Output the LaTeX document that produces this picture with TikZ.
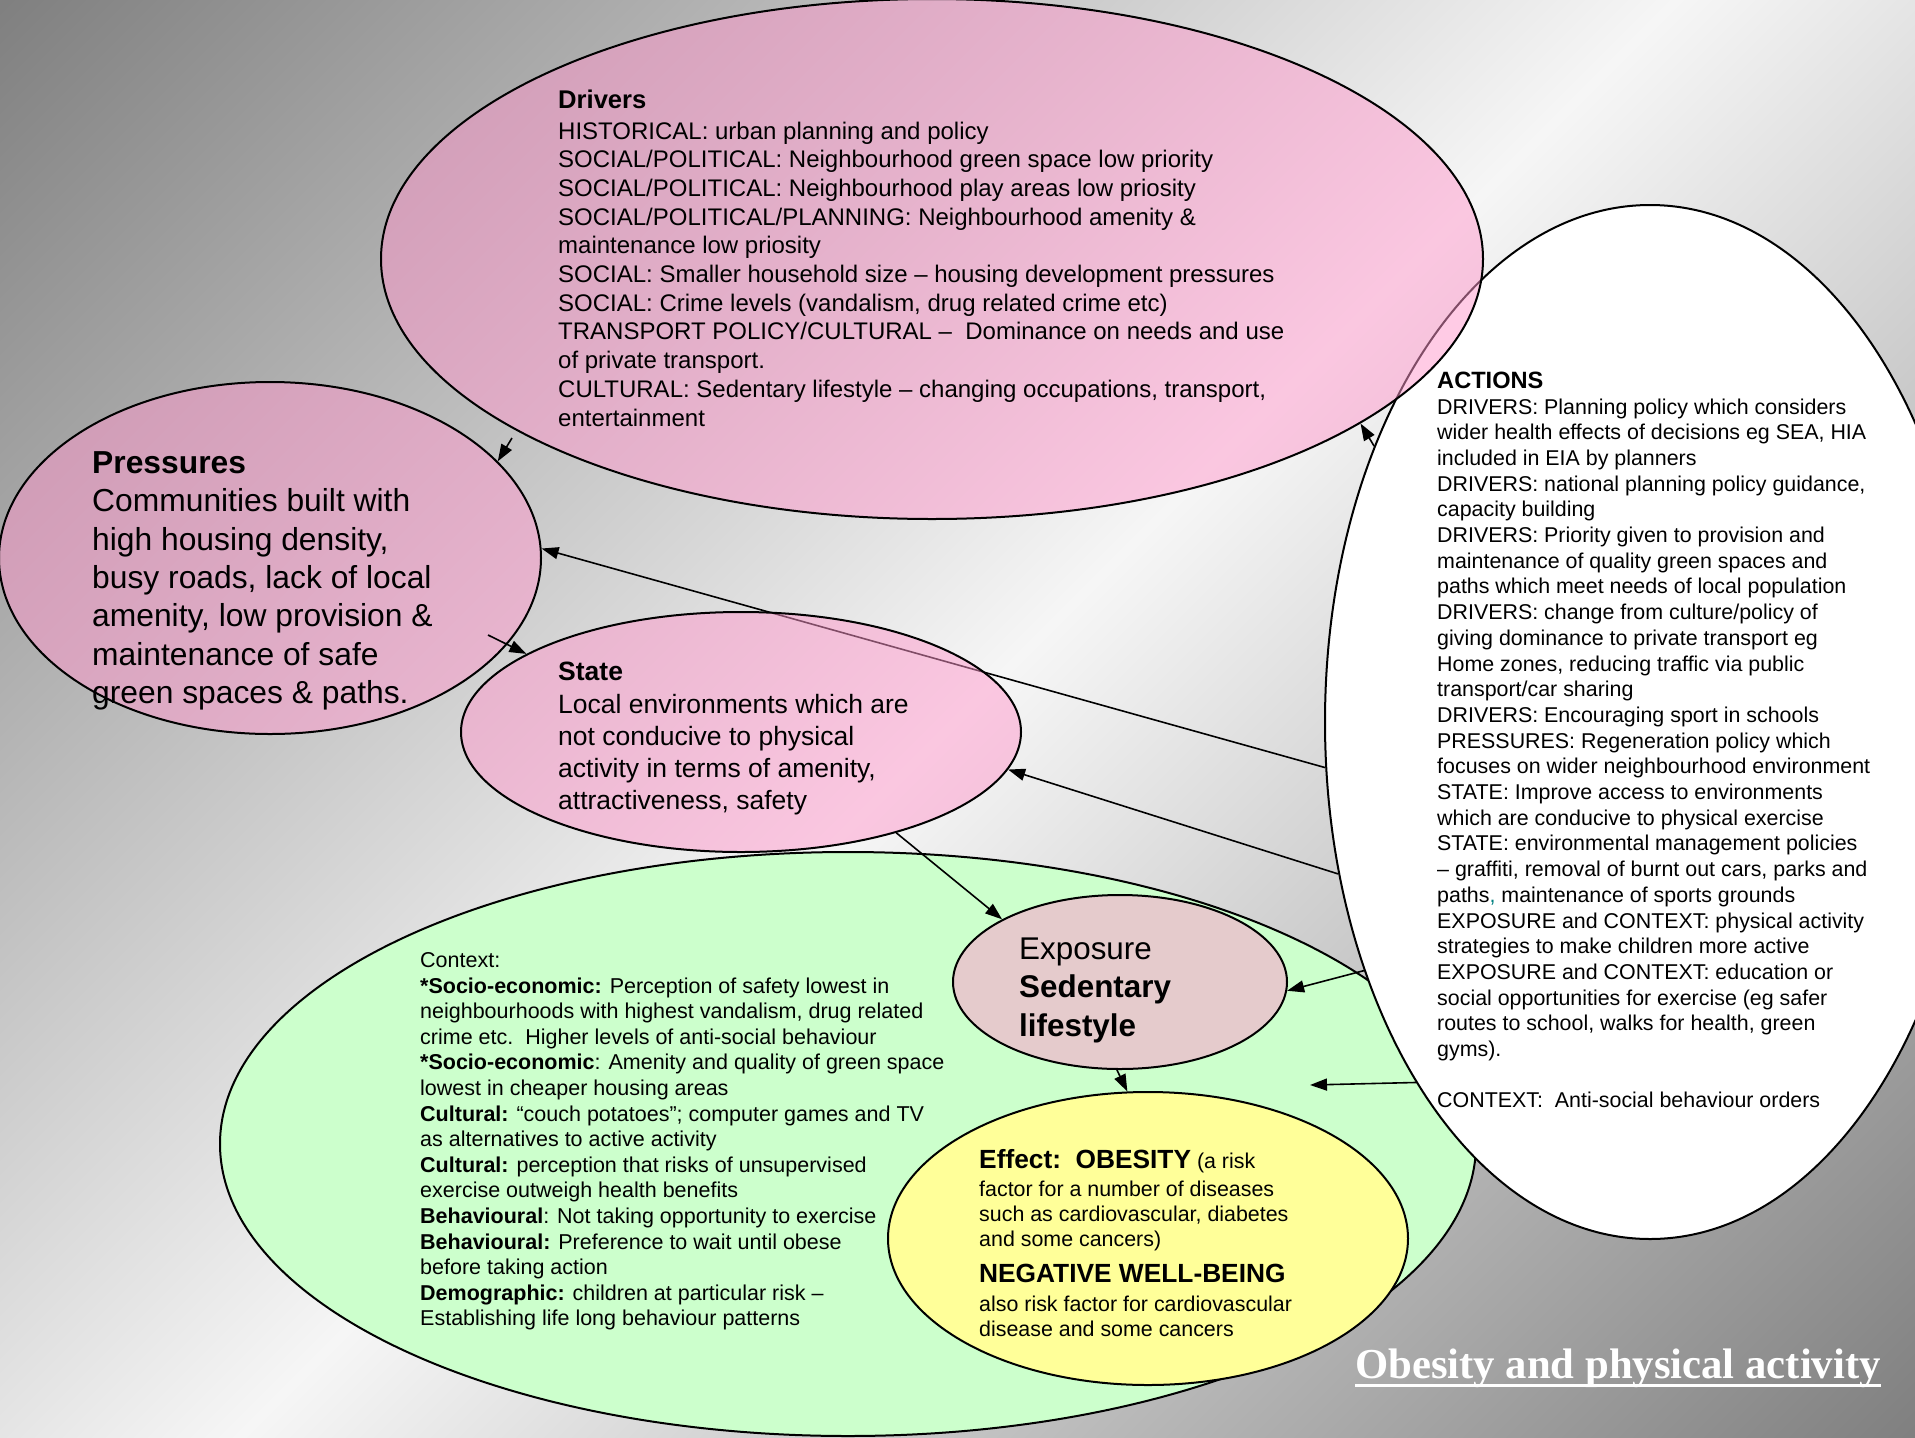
\documentclass[tikz,border=0pt]{standalone}
\usepackage{fontspec}
\setmainfont{Liberation Sans}
\newfontfamily\titlefont{Liberation Serif}
\usetikzlibrary{shapes.geometric, arrows.meta}

\definecolor{bgdark}{RGB}{128,128,128}
\definecolor{bglight}{RGB}{246,246,246}
\definecolor{rose}{RGB}{255,153,204}
\definecolor{mint}{RGB}{204,255,204}
\definecolor{lemon}{RGB}{255,255,153}
\pgfdeclarehorizontalshading{slide}{100bp}{color(0bp)=(bgdark); color(14.6bp)=(bgdark); color(50bp)=(bglight); color(85.4bp)=(bgdark); color(100bp)=(bgdark)}

\begin{document}
\begin{tikzpicture}[x=1pt, y=-1pt,
	blob/.style={ellipse, draw, line width=2pt, inner sep=0pt},
	arr/.style={-{Triangle[length=17pt, width=12pt]}, line width=1.6pt},
	txt/.style={anchor=base west, align=left, inner sep=0pt}]
	\useasboundingbox (0,0) rectangle (1915,1438);
	\shade[shading=slide, shading angle=-45] (0,0) rectangle (1915,1438);
	
	\node[blob, fill=mint, minimum width=1256, minimum height=584] (ctx) at (848,1144) {};
	\node[blob, fill=white, minimum width=650, minimum height=1034] (act) at (1650,722) {};
	\node[blob, fill=rose, fill opacity=0.5, minimum width=1102, minimum height=520] (drv) at (932,259) {};
	\node[blob, fill=rose, fill opacity=0.5, minimum width=542, minimum height=352] (prs) at (270,558) {};
	\draw[arr] (act.188) -- (prs.2);
	\node[blob, fill=rose, fill opacity=0.5, minimum width=560, minimum height=240] (sta) at (741,732) {};
	\node[blob, fill=rose, fill opacity=0.5, minimum width=334, minimum height=174] (exp) at (1120,982) {};
	\node[blob, fill=lemon, minimum width=520, minimum height=293] (eff) at (1148,1238.5) {};
	
	\coordinate (d2p) at (512,438);
	\coordinate (p2s) at (488,635);
	\coordinate (a2c) at (1310,1085);
	
	\draw[arr] (d2p) -- (prs.23);
	\draw[arr] (act.135) -- (drv.-21);
	\draw[arr] (p2s) -- (sta.160);
	\draw[arr] (act.206) -- (sta.-8);
	\draw[arr] (sta.-33) -- (exp.152);
	\draw[arr] (act.221) -- (exp.-3);
	\draw[arr] (exp.-92) -- (eff.98);
	\draw[arr] (act.237) -- (a2c);
	
	% text blocks sit on the baseline of their last line
	\node[txt, font=\fontsize{24}{28.7}\selectfont] (drvtxt) at (558,426) {\textbf{\fontsize{25.6}{28.7}\selectfont Drivers}\\[2pt]
		HISTORICAL: urban planning and policy\\
		SOCIAL/POLITICAL: Neighbourhood green space low priority\\
		SOCIAL/POLITICAL: Neighbourhood play areas low priosity\\
		SOCIAL/POLITICAL/PLANNING: Neighbourhood amenity \&\\
		maintenance low priosity\\
		SOCIAL: Smaller household size -- housing development pressures\\
		SOCIAL: Crime levels (vandalism, drug related crime etc)\\
		TRANSPORT POLICY/CULTURAL --\ \ Dominance on needs and use\\
		of private transport.\\
		CULTURAL: Sedentary lifestyle -- changing occupations, transport,\\
		entertainment};
	
	\node[txt, font=\fontsize{31.8}{38.4}\selectfont] (prstxt) at (92,703.7) {\textbf{Pressures}\\
		Communities built with\\
		high housing density,\\
		busy roads, lack of local\\
		amenity, low provision \&\\
		maintenance of safe\\
		green spaces \& paths.};
	
	\node[txt, font=\fontsize{26.5}{32}\selectfont] (statxt) at (558,809.3) {\textbf{State}\\[1.3pt]
		Local environments which are\\
		not conducive to physical\\
		activity in terms of amenity,\\
		attractiveness, safety};
	
	\node[txt, font=\fontsize{31.4}{38.5}\selectfont] (exptxt) at (1019,1036) {Exposure\\
		\textbf{Sedentary}\\
		\textbf{lifestyle}};
	
	\node[txt, font=\fontsize{21.4}{25}\selectfont] (efftxt) at (979,1336) {\textbf{\fontsize{26.3}{25}\selectfont Effect:\ \ OBESITY} (a risk\\[3.7pt]
		factor for a number of diseases\\
		such as cardiovascular, diabetes\\
		and some cancers)\\[10.5pt]
		\textbf{\fontsize{26.3}{25}\selectfont NEGATIVE WELL-BEING}\\[3.6pt]
		also risk factor for cardiovascular\\
		disease and some cancers};
	
	\node[txt, font=\fontsize{21.5}{25.6}\selectfont] (ctxtxt) at (420,1325.9) {Context:\\
		\textbf{*Socio-economic:} Perception of safety lowest in\\
		neighbourhoods with highest vandalism, drug related\\
		crime etc.\ \ Higher levels of anti-social behaviour\\
		\textbf{*Socio-economic}: Amenity and quality of green space\\
		lowest in cheaper housing areas\\
		\textbf{Cultural:} “couch potatoes”; computer games and TV\\
		as alternatives to active activity\\
		\textbf{Cultural:} perception that risks of unsupervised\\
		exercise outweigh health benefits\\
		\textbf{Behavioural}: Not taking opportunity to exercise\\
		\textbf{Behavioural:} Preference to wait until obese\\
		before taking action\\
		\textbf{Demographic:} children at particular risk --\\
		Establishing life long behaviour patterns};
	
	\node[txt, font=\fontsize{21.4}{25.7}\selectfont] (acttxt) at (1437,1107.9) {\textbf{\fontsize{23.6}{25.7}\selectfont ACTIONS}\\
		DRIVERS: Planning policy which considers\\
		wider health effects of decisions eg SEA, HIA\\
		included in EIA by planners\\
		DRIVERS: national planning policy guidance,\\
		capacity building\\
		DRIVERS: Priority given to provision and\\
		maintenance of quality green spaces and\\
		paths which meet needs of local population\\
		DRIVERS: change from culture/policy of\\
		giving dominance to private transport eg\\
		Home zones, reducing traffic via public\\
		transport/car sharing\\
		DRIVERS: Encouraging sport in schools\\
		PRESSURES: Regeneration policy which\\
		focuses on wider neighbourhood environment\\
		STATE: Improve access to environments\\
		which are conducive to physical exercise\\
		STATE: environmental management policies\\
		-- graffiti, removal of burnt out cars, parks and\\
		paths\textcolor{teal}{,} maintenance of sports grounds\\
		EXPOSURE and CONTEXT: physical activity\\
		strategies to make children more active\\
		EXPOSURE and CONTEXT: education or\\
		social opportunities for exercise (eg safer\\
		routes to school, walks for health, green\\
		gyms).\\[25.7pt]
		CONTEXT:\ \ Anti-social behaviour orders};
	
	\node[txt, text=white, font=\titlefont\bfseries\fontsize{42.7}{50}\selectfont] (ttl) at (1355,1378) {Obesity and physical activity};
	\draw[white, line width=3pt] ([yshift=-7pt]ttl.base west) -- ([yshift=-7pt]ttl.base east);
\end{tikzpicture}
\end{document}
